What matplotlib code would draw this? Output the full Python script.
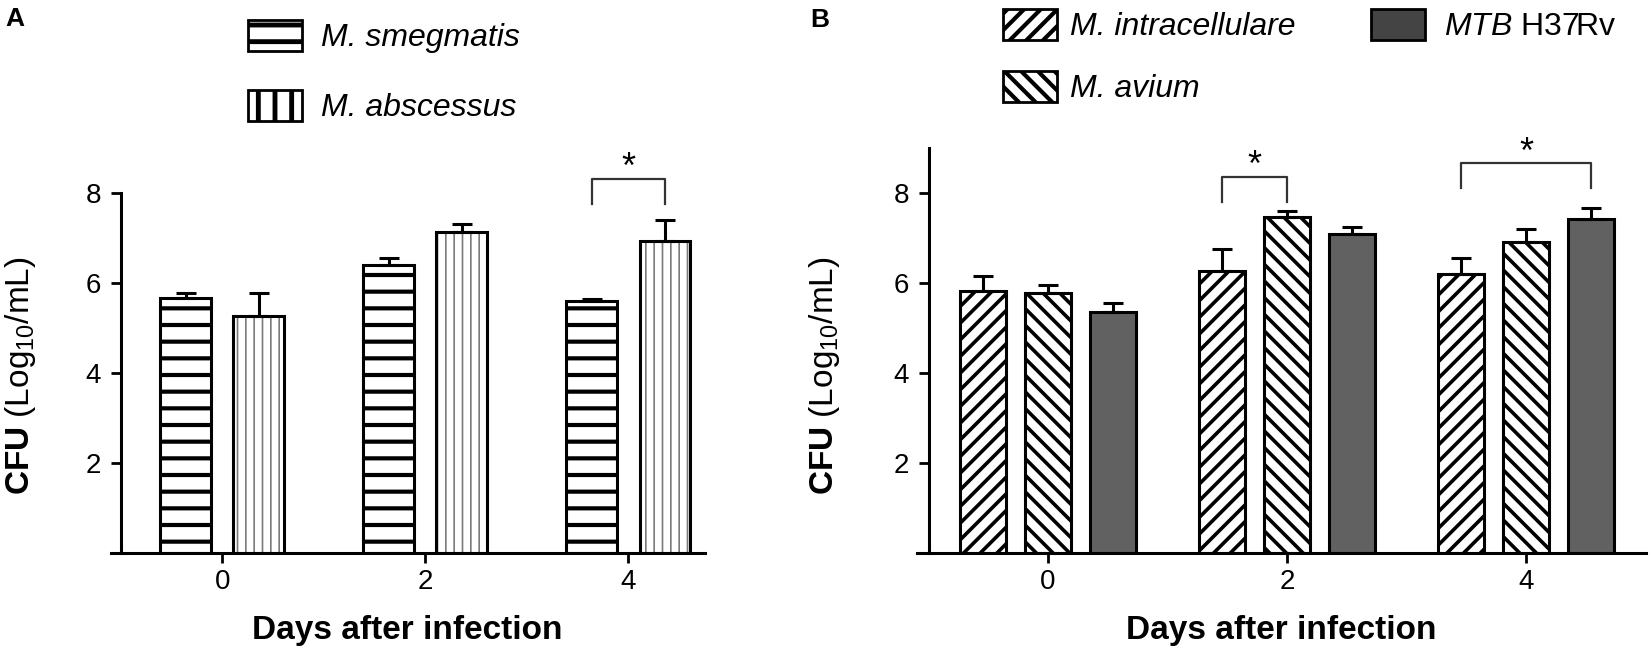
import numpy as np
import matplotlib.pyplot as plt
import matplotlib.patches as mpatches

plt.rcParams['font.family'] = ['Liberation Sans', 'DejaVu Sans']
plt.rcParams['mathtext.fontset'] = 'custom'
plt.rcParams['mathtext.rm'] = 'Liberation Sans'
plt.rcParams['mathtext.bf'] = 'Liberation Sans:bold'
plt.rcParams['mathtext.it'] = 'Liberation Sans:italic'

days = [0, 2, 4]
yticks = [2, 4, 6, 8]

# panel A: CFU (log10/mL), mean and upper error
smeg = [5.67, 6.39, 5.59]
smeg_err = [0.11, 0.17, 0.05]
absc = [5.27, 7.13, 6.93]
absc_err = [0.49, 0.17, 0.46]

# panel B
intra = [5.82, 6.27, 6.19]
intra_err = [0.34, 0.49, 0.37]
avium = [5.78, 7.45, 6.90]
avium_err = [0.16, 0.15, 0.29]
mtb = [5.36, 7.08, 7.42]
mtb_err = [0.18, 0.15, 0.25]

# significance: (day, left bar index, right bar index, bracket top, leg bottom)
sig_a = [(4, 0, 1, 8.31, 7.74)]
sig_b = [(2, 0, 1, 8.36, 7.80), (4, 0, 2, 8.65, 8.10)]


def set_hlw(p, lw):
    if hasattr(p, 'set_hatch_linewidth'):
        p.set_hatch_linewidth(lw)


def hatched_bars(ax, x, h, err, w, face='white', hatch=None, hcolor='black', hlw=2.0):
    fill = ax.bar(x, h, w, color=face, edgecolor=hcolor, linewidth=0,
                  hatch=hatch, zorder=2)
    if hatch:
        for p in fill:
            set_hlw(p, hlw)
    ax.bar(x, h, w, fill=False, edgecolor='black', linewidth=2.2, zorder=3)
    ax.errorbar(x, h, yerr=[np.zeros(len(h)), err], fmt='none', ecolor='black',
                elinewidth=2.2, capsize=7, capthick=2.2, zorder=4)


def style_axis(ax, xlim, ytop):
    ax.set_xlim(*xlim)
    ax.set_ylim(0, ytop)
    ax.spines['top'].set_visible(False)
    ax.spines['right'].set_visible(False)
    ax.spines['left'].set_position(('data', -1))
    ax.spines['left'].set_bounds(0, ytop)
    for s in ('left', 'bottom'):
        ax.spines[s].set_linewidth(2.2)
    ax.set_xticks(days)
    ax.set_yticks(yticks)
    ax.tick_params(axis='both', direction='out', length=7, width=2, labelsize=20)
    ax.tick_params(axis='y', pad=7)
    ax.tick_params(axis='x', pad=5)
    ax.set_xlabel('Days after infection', fontsize=24, fontweight='bold', labelpad=14)


def brackets(ax, sig, offsets):
    for day, i, j, top, leg in sig:
        x1 = day + offsets[i]
        x2 = day + offsets[j]
        ax.plot([x1, x1, x2, x2], [leg, top, top, leg], color='#333333', lw=1.6,
                clip_on=False, zorder=5)
        ax.text((x1 + x2) / 2, top + 0.02, '*', ha='center', va='baseline',
                fontsize=26, clip_on=False)


fig = plt.figure(figsize=(16.5, 6.53), dpi=100)
ax_a = fig.add_axes([0.0670, 0.1536, 0.3600, 0.5513])
ax_b = fig.add_axes([0.5555, 0.1536, 0.4418, 0.6202])

x = np.array(days, dtype=float)

# ---- panel A
wa, da = 0.5, 0.36
hatched_bars(ax_a, x - da, smeg, smeg_err, wa, hatch='-', hcolor='black', hlw=3.0)
hatched_bars(ax_a, x + da, absc, absc_err, wa, hatch='||', hcolor='#7a7a7a', hlw=1.2)
style_axis(ax_a, (-1.1, 4.75), 8)
brackets(ax_a, sig_a, [-da, da])

# ---- panel B
wb, db = 0.385, 0.545
hatched_bars(ax_b, x - db, intra, intra_err, wb, hatch='//', hcolor='black', hlw=2.6)
hatched_bars(ax_b, x, avium, avium_err, wb, hatch='\\\\', hcolor='black', hlw=2.6)
hatched_bars(ax_b, x + db, mtb, mtb_err, wb, face='#616161')
style_axis(ax_b, (-1.1, 5.0), 9)
brackets(ax_b, sig_b, [-db, 0, db])

ylab = r'$\mathbf{CFU}$ (Log$_{10}$/mL)'
fig.text(21 / 1650, 0.424, ylab, rotation=90, ha='center', va='center', fontsize=24)
fig.text(824 / 1650, 0.424, ylab, rotation=90, ha='center', va='center', fontsize=24)

fig.text(15 / 1650, 1 - 19 / 653, 'A', ha='center', va='center', fontsize=19, fontweight='bold')
fig.text(820 / 1650, 1 - 20 / 653, 'B', ha='center', va='center', fontsize=19, fontweight='bold')


def legend_patch(face='white', hatch=None):
    return mpatches.Patch(facecolor=face, edgecolor='black', hatch=hatch, linewidth=2.0)


leg_kw = dict(loc='upper left', bbox_transform=fig.transFigure, frameon=False,
              fontsize=23, handlelength=1.7, handleheight=1.1, borderpad=0,
              borderaxespad=0)

leg_a = ax_a.legend([legend_patch(hatch='-'), legend_patch(hatch='|')],
                    ['M. smegmatis', 'M. abscessus'],
                    bbox_to_anchor=(248 / 1650, 1 - 20 / 653),
                    handletextpad=0.6, labelspacing=1.15, **leg_kw)
for t in leg_a.get_texts():
    t.set_fontstyle('italic')
for p in leg_a.get_patches():
    set_hlw(p, 3.5)

leg_b1 = ax_b.legend([legend_patch(hatch='//'), legend_patch(hatch='\\\\')],
                     ['M. intracellulare', 'M. avium'],
                     bbox_to_anchor=(1003 / 1650, 1 - 9 / 653),
                     handletextpad=0.4, labelspacing=0.9, **leg_kw)
for t in leg_b1.get_texts():
    t.set_fontstyle('italic')
for p in leg_b1.get_patches():
    set_hlw(p, 3.0)
ax_b.add_artist(leg_b1)

ax_b.legend([legend_patch(face='#444444')], [r'$\mathit{MTB}$ H37Rv'],
            bbox_to_anchor=(1371 / 1650, 1 - 9 / 653),
            handletextpad=0.6, **leg_kw)

fig.savefig('out.png', dpi=100)
